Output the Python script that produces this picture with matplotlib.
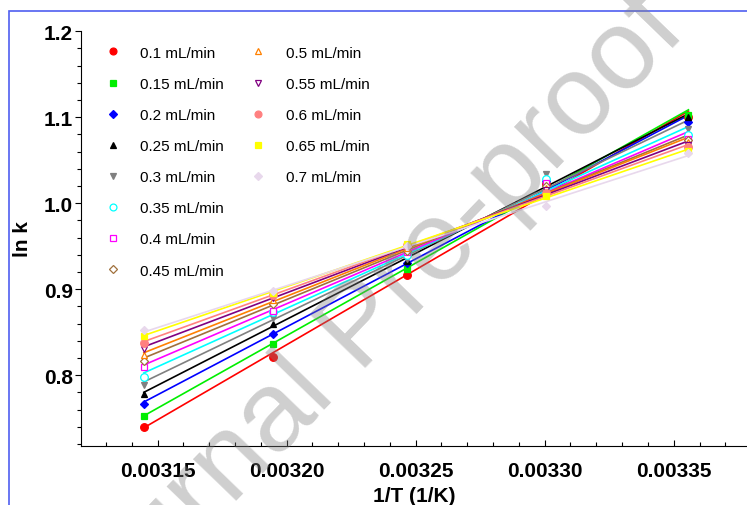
import numpy as np
import matplotlib
matplotlib.use('Agg')
import matplotlib.pyplot as plt
from matplotlib.patches import Rectangle

plt.rcParams['font.family'] = ['Liberation Sans', 'DejaVu Sans']

# temperatures (K) -> 1/T
temps = [318, 313, 308, 303, 298]
inv_t = [1.0 / t for t in temps]

flow_labels = ['0.1 mL/min', '0.15 mL/min', '0.2 mL/min', '0.25 mL/min', '0.3 mL/min',
               '0.35 mL/min', '0.4 mL/min', '0.45 mL/min', '0.5 mL/min', '0.55 mL/min',
               '0.6 mL/min', '0.65 mL/min', '0.7 mL/min']

# ln k values, one list per flow rate
lnk_01 = [0.740, 0.821, 0.917, 1.022, 1.100]
lnk_015 = [0.752, 0.836, 0.924, 1.024, 1.103]
lnk_02 = [0.766, 0.848, 0.930, 1.026, 1.094]
lnk_025 = [0.778, 0.860, 0.933, 1.026, 1.100]
lnk_03 = [0.789, 0.866, 0.935, 1.034, 1.086]
lnk_035 = [0.798, 0.873, 0.940, 1.028, 1.079]
lnk_04 = [0.810, 0.875, 0.943, 1.024, 1.075]
lnk_045 = [0.817, 0.883, 0.945, 1.020, 1.073]
lnk_05 = [0.823, 0.887, 0.948, 1.018, 1.071]
lnk_055 = [0.831, 0.890, 0.950, 1.015, 1.068]
lnk_06 = [0.838, 0.893, 0.951, 1.012, 1.065]
lnk_065 = [0.846, 0.896, 0.953, 1.008, 1.061]
lnk_07 = [0.852, 0.898, 0.950, 0.997, 1.059]

all_lnk = [lnk_01, lnk_015, lnk_02, lnk_025, lnk_03, lnk_035, lnk_04,
           lnk_045, lnk_05, lnk_055, lnk_06, lnk_065, lnk_07]

# style per series: color, marker, filled
styles = [('#ff0000', 'o', True), ('#00ee00', 's', True), ('#0000ff', 'D', True),
          ('#000000', '^', True), ('#808080', 'v', True), ('#00ffff', 'o', False),
          ('#ff00ff', 's', False), ('#a0703c', 'D', False), ('#ff8000', '^', False),
          ('#800080', 'v', False), ('#ff8080', 'o', True), ('#ffff00', 's', True),
          ('#e8d8ec', 'D', True)]

fig = plt.figure(figsize=(7.47, 5.06), dpi=100)
ax = fig.add_axes([0.1084, 0.1172, 0.8916, 0.8190])

handles = []
x = np.array(inv_t)
for vals, lab, (c, m, filled) in zip(all_lnk, flow_labels, styles):
    y = np.array(vals)
    p = np.polyfit(x, y, 1)
    xx = np.array([x.min(), x.max()])
    ax.plot(xx, np.polyval(p, xx), color=c, lw=1.2, zorder=2)
    ms = 5.5 if m == 'o' else 4.2
    h, = ax.plot(x, y, ls='none', marker=m, ms=ms, color=c,
                 mfc=c if filled else 'white', mec=c, mew=0.9, label=lab, zorder=3)
    handles.append(h)

ax.set_xlim(0.0031203, 0.0033784)
ax.set_ylim(0.718, 1.2)
ax.set_xticks([0.00315, 0.00320, 0.00325, 0.00330, 0.00335])
ax.set_xticklabels(['0.00315', '0.00320', '0.00325', '0.00330', '0.00335'])
ax.set_yticks([0.8, 0.9, 1.0, 1.1, 1.2])
ax.set_yticklabels(['0.8', '0.9', '1.0', '1.1', '1.2'])
ax.set_xticks(np.arange(0.00313, 0.003375, 0.00001), minor=True)
ax.set_yticks(np.arange(0.72, 1.2001, 0.02), minor=True)
ax.tick_params(axis='x', which='major', direction='in', length=4, width=0.8, labelsize=15, pad=11)
ax.tick_params(axis='x', which='minor', direction='in', length=3, width=0.8)
ax.tick_params(axis='y', which='major', direction='out', length=4, width=0.8, labelsize=15, pad=2)
ax.tick_params(axis='y', which='minor', direction='out', length=3, width=0.8)
for lbl in ax.get_xticklabels() + ax.get_yticklabels():
    lbl.set_fontweight('bold')
ax.spines['top'].set_visible(False)
ax.spines['right'].set_visible(False)
ax.spines['left'].set_linewidth(0.8)
ax.spines['bottom'].set_linewidth(0.8)

ax.set_xlabel('1/T (1/K)', fontsize=15, fontweight='bold', labelpad=4)
ax.set_ylabel('ln k', fontsize=15, fontweight='bold', labelpad=8)

leg_kw = dict(frameon=False, fontsize=11, handlelength=1.0, handletextpad=1.3,
              labelspacing=1.12, borderpad=0, borderaxespad=0, markerscale=0.9)
leg1 = ax.legend(handles=handles[:8], loc='upper left', bbox_to_anchor=(0.036, 0.965), **leg_kw)
ax.add_artist(leg1)
ax.legend(handles=handles[8:], loc='upper left', bbox_to_anchor=(0.255, 0.965), **leg_kw)

# blue frame around the figure
fig.patches.append(Rectangle((9 / 747, -0.05), 1.05, 1 - 12 / 506 + 0.05,
                             transform=fig.transFigure, fill=False,
                             edgecolor='#4f5ff0', lw=1.2))

# watermark
fig.text(0.485, 0.35, 'Journal Pre-proof', fontsize=82, color='0.5', alpha=0.38,
         rotation=46, ha='center', va='center', zorder=10)

fig.savefig('out.png', dpi=100)
